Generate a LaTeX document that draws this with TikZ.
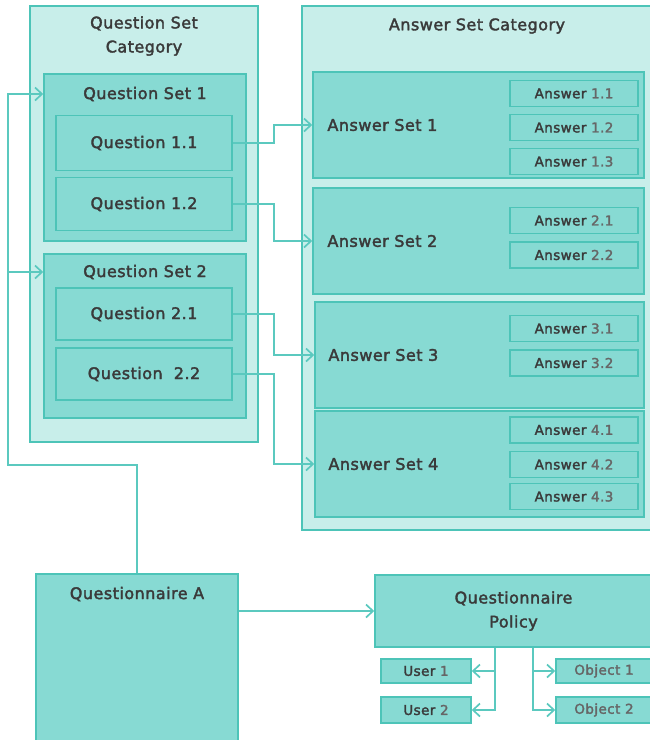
\documentclass[tikz,border=0pt]{standalone}
\usepackage{fontspec}
\setmainfont{DejaVu Sans}
\newfontfamily\semib[LetterSpace=3,BoldFont=DejaVu Sans,BoldFeatures={FakeBold=2.2}]{DejaVu Sans}
\usetikzlibrary{arrows.meta,calc}
\definecolor{ink}{HTML}{3A3A3A}
\definecolor{greytx}{HTML}{666666}
\definecolor{rim}{HTML}{4DC4B8}
\definecolor{outerfill}{HTML}{C8EEEA}
\definecolor{innerfill}{HTML}{87DAD3}
\definecolor{wire}{HTML}{5BC9BF}
\tikzset{
  catbox/.style={draw=rim,fill=outerfill,line width=1.5pt,inner sep=0pt},
  setbox/.style={draw=rim,fill=innerfill,line width=1.5pt,inner sep=0pt},
  itembox/.style={setbox,text=ink,font=\semib\bfseries\fontsize{16}{24}\selectfont},
  ansbox/.style={setbox,minimum width=128pt,minimum height=26pt,text=ink,font=\semib\bfseries\fontsize{13.5}{15}\selectfont},
  title/.style={text=ink,font=\semib\bfseries\fontsize{16}{24}\selectfont,align=center,inner sep=0pt},
  conn/.style={draw=wire,line width=1.7pt},
  tip/.style={conn,-{Straight Barb[length=7pt,width=13pt]}},
}
\newcommand{\answ}[1]{Answer {\color{greytx}#1}}

\begin{document}
\begin{tikzpicture}[x=1pt,y=-1pt]
  \useasboundingbox (0,0) rectangle (649,740);

  % ---------------------------------------------------------------- questions
  \node[catbox,minimum width=228pt,minimum height=436pt] (qsc) at (144,224) {};
  \node[title] (qsct) at (144,36) {Question Set\\Category};
  \node[setbox,minimum width=202pt,minimum height=167pt] (qs1) at (145,157.5) {};
  \node[title] (qs1t) at (145,94) {Question Set 1};
  \node[itembox,minimum width=176pt,minimum height=55pt] (q11) at (144,143) {Question 1.1};
  \node[itembox,minimum width=176pt,minimum height=53pt] (q12) at (144,204) {Question 1.2};
  \node[setbox,minimum width=202pt,minimum height=164pt] (qs2) at (145,336) {};
  \node[title] (qs2t) at (145,272) {Question Set 2};
  \node[itembox,minimum width=176pt,minimum height=52pt] (q21) at (144,314) {Question 2.1};
  \node[itembox,minimum width=176pt,minimum height=52pt] (q22) at (144,374) {Question\ \ 2.2};

  % ---------------------------------------------------------------- answers
  \node[catbox,minimum width=350pt,minimum height=524pt] (asc) at (477,268) {};
  \node[title] (asct) at (477,26) {Answer Set Category};
  \node[setbox,minimum width=331pt,minimum height=106pt] (as1) at (478.5,125) {};
  \node[setbox,minimum width=331pt,minimum height=106pt] (as2) at (478.5,241) {};
  \node[setbox,minimum width=329pt,minimum height=106pt] (as3) at (479.5,355) {};
  \node[setbox,minimum width=329pt,minimum height=106pt] (as4) at (479.5,464) {};
  \node[title,anchor=west] (as1t) at ($(as1.west)+(15,0)$) {Answer Set 1};
  \node[title,anchor=west] (as2t) at ($(as2.west)+(15,0)$) {Answer Set 2};
  \node[title,anchor=west] (as3t) at ($(as3.west)+(14,0)$) {Answer Set 3};
  \node[title,anchor=west] (as4t) at ($(as4.west)+(14,0)$) {Answer Set 4};
  \node[ansbox] (a11) at (574,93.5) {\answ{1.1}};
  \node[ansbox] (a12) at (574,127.5) {\answ{1.2}};
  \node[ansbox] (a13) at (574,161.5) {\answ{1.3}};
  \node[ansbox] (a21) at (574,220.5) {\answ{2.1}};
  \node[ansbox] (a22) at (574,255) {\answ{2.2}};
  \node[ansbox] (a31) at (574,328.5) {\answ{3.1}};
  \node[ansbox] (a32) at (574,363) {\answ{3.2}};
  \node[ansbox] (a41) at (574,430) {\answ{4.1}};
  \node[ansbox] (a42) at (574,464.5) {\answ{4.2}};
  \node[ansbox] (a43) at (574,496.5) {\answ{4.3}};

  % ---------------------------------------------------------------- questionnaire
  \node[setbox,minimum width=202pt,minimum height=170pt] (qa) at (137,659) {};
  \node[title] (qat) at (137,594) {Questionnaire A};
  \node[itembox,minimum width=277pt,minimum height=72pt,align=center] (qp) at (513.5,611)
       {Questionnaire\\Policy};
  \node[ansbox,minimum width=90pt,minimum height=24pt] (u1) at (426,671) {User {\color{greytx}1}};
  \node[ansbox,minimum width=90pt] (u2) at (426,710) {User {\color{greytx}2}};
  \node[ansbox,minimum width=96pt,minimum height=24pt,text=greytx] (o1) at (604,671) {Object 1};
  \node[ansbox,minimum width=96pt,text=greytx] (o2) at (604,710) {Object 2};

  % ---------------------------------------------------------------- wires
  \coordinate (bend) at (8,465);
  \draw[conn] (qa.north) |- (bend) -- (bend |- qs2t);
  \draw[tip] (bend |- qs2t) |- (qs1.west |- qs1t);
  \draw[tip] (bend |- qs2t) -- (qs2.west |- qs2t);
  \draw[tip] (q11.east) -- ++(41,0) |- (as1.west);
  \draw[tip] (q12.east) -- ++(41,0) |- (as2.west);
  \draw[tip] (q21.east) -- ++(41,0) |- (as3.west);
  \draw[tip] (q22.east) -- ++(41,0) |- (as4.west);
  \draw[tip] (qp.west -| qa.east) -- (qp.west);
  \coordinate (ut) at ($(qp.south)+(-18.5,0)$);
  \coordinate (ot) at ($(qp.south)+(19.5,0)$);
  \draw[tip] (ut) |- (u2.east);
  \draw[tip] (ut |- u1.east) -- (u1.east);
  \draw[tip] (ot) |- (o2.west);
  \draw[tip] (ot |- o1.west) -- (o1.west);
\end{tikzpicture}
\end{document}
